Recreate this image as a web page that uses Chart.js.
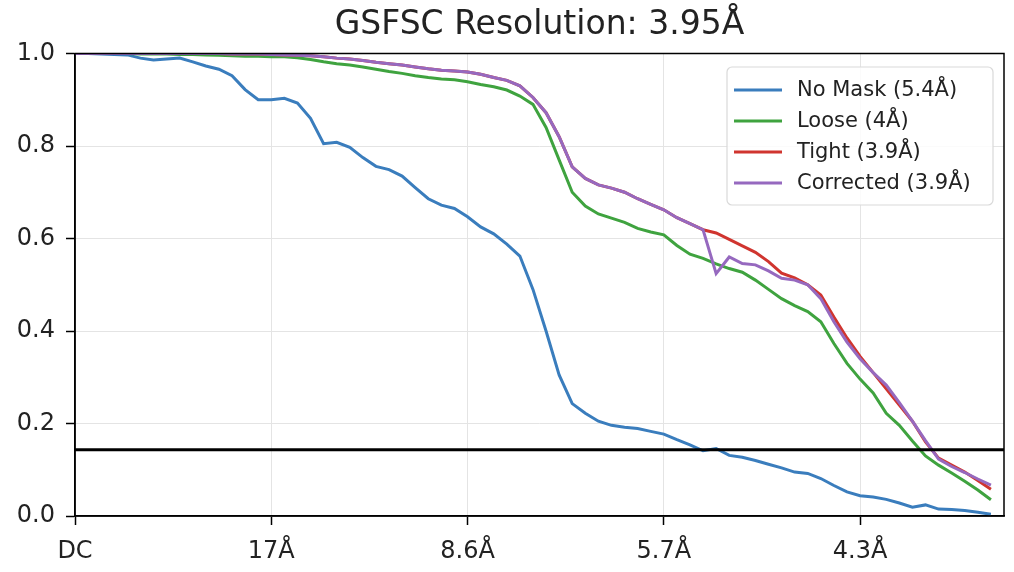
<!DOCTYPE html>
<html>
<head>
<meta charset="utf-8">
<script src="https://cdn.jsdelivr.net/npm/chart.js@4/dist/chart.umd.min.js"></script>
<style>
  body { margin: 0; background: #fff; }
  canvas { display: block; }
</style>
</head>
<body>
<canvas id="fsc" width="1014" height="572"></canvas>
<script>
// shell index along the x axis (tick every 15 shells)
const shells = Array.from({ length: 71 }, (_, i) => i);
const tickShells = [0, 15, 30, 45, 60];
const tickLabels = ["DC", "17Å", "8.6Å", "5.7Å", "4.3Å"];
const yTicks = [0, 0.2, 0.4, 0.6, 0.8, 1.0];

const titleText = "GSFSC Resolution: 3.95Å";
const threshold = 0.143;

const noMask = [1.0, 1.0, 0.999, 0.998, 0.997, 0.99, 0.986, 0.988, 0.99, 0.982,
  0.973, 0.966, 0.952, 0.922, 0.9, 0.9, 0.903, 0.893, 0.86, 0.805,
  0.808, 0.797, 0.775, 0.756, 0.749, 0.735, 0.71, 0.686, 0.672, 0.665,
  0.647, 0.625, 0.61, 0.588, 0.562, 0.49, 0.4, 0.305, 0.243, 0.222,
  0.205, 0.196, 0.192, 0.189, 0.183, 0.177, 0.165, 0.154, 0.141, 0.146,
  0.131, 0.127, 0.12, 0.112, 0.104, 0.095, 0.092, 0.081, 0.066, 0.052,
  0.044, 0.041, 0.036, 0.028, 0.019, 0.024, 0.015, 0.014, 0.012, 0.008, 0.004];

const loose = [1.0, 1.0, 1.0, 1.0, 1.0, 0.999, 0.999, 0.999, 0.998, 0.998,
  0.997, 0.996, 0.995, 0.994, 0.994, 0.993, 0.993, 0.991, 0.987, 0.982,
  0.978, 0.975, 0.971, 0.966, 0.961, 0.957, 0.952, 0.948, 0.945, 0.943,
  0.939, 0.933, 0.928, 0.921, 0.908, 0.89, 0.84, 0.77, 0.70, 0.67,
  0.653, 0.644, 0.635, 0.622, 0.614, 0.608, 0.585, 0.566, 0.557, 0.545,
  0.535, 0.527, 0.51, 0.49, 0.47, 0.455, 0.442, 0.42, 0.373, 0.33,
  0.296, 0.266, 0.222, 0.196, 0.162, 0.13, 0.11, 0.093, 0.075, 0.056, 0.035];

const tight = [1.0, 1.0, 1.0, 1.0, 1.0, 1.0, 1.0, 1.0, 1.0, 1.0,
  1.0, 1.0, 0.999, 0.999, 0.999, 0.998, 0.997, 0.996, 0.995, 0.993,
  0.99, 0.988, 0.985, 0.981, 0.978, 0.975, 0.971, 0.967, 0.964, 0.962,
  0.96, 0.955, 0.948, 0.942, 0.93, 0.905, 0.872, 0.82, 0.755, 0.73,
  0.716, 0.709, 0.70, 0.686, 0.674, 0.662, 0.645, 0.632, 0.619, 0.612,
  0.598, 0.584, 0.57, 0.55, 0.525, 0.515, 0.5, 0.478, 0.43, 0.385,
  0.345, 0.31, 0.275, 0.24, 0.205, 0.16, 0.125, 0.11, 0.095, 0.077, 0.058];

const corrected = [1.0, 1.0, 1.0, 1.0, 1.0, 1.0, 1.0, 1.0, 1.0, 1.0,
  1.0, 1.0, 0.999, 0.999, 0.999, 0.998, 0.997, 0.996, 0.995, 0.993,
  0.99, 0.988, 0.985, 0.981, 0.978, 0.975, 0.971, 0.967, 0.964, 0.962,
  0.96, 0.955, 0.948, 0.942, 0.93, 0.905, 0.872, 0.82, 0.755, 0.73,
  0.716, 0.709, 0.70, 0.686, 0.674, 0.662, 0.645, 0.632, 0.619, 0.524,
  0.56, 0.546, 0.543, 0.53, 0.514, 0.51, 0.5, 0.47, 0.42, 0.376,
  0.34, 0.31, 0.283, 0.245, 0.205, 0.163, 0.123, 0.107, 0.094, 0.08, 0.067];

const seriesLabels = ["No Mask (5.4Å)", "Loose (4Å)", "Tight (3.9Å)", "Corrected (3.9Å)"];
const seriesColors = ["#3a7dbd", "#3fa33f", "#d0352f", "#9669bf"];

const FONT = '"DejaVu Sans", "Liberation Sans", sans-serif';
Chart.defaults.font.family = FONT;
Chart.defaults.color = "#222";

function toPoints(vals) {
  return vals.map((v, i) => ({ x: shells[i], y: v }));
}

const seriesData = [noMask, loose, tight, corrected];
const datasets = seriesData.map((vals, k) => ({
  label: seriesLabels[k],
  data: toPoints(vals),
  borderColor: seriesColors[k],
  borderWidth: 3,
  pointRadius: 0,
  tension: 0,
  order: 4 - k
}));
datasets.push({
  label: "",
  data: [{ x: 0, y: threshold }, { x: 71, y: threshold }],
  borderColor: "#000",
  borderWidth: 3,
  pointRadius: 0,
  order: 0
});

// matplotlib style frame round the axes
const framePlugin = {
  id: "frame",
  afterDatasetsDraw(chart) {
    const { ctx, chartArea: a } = chart;
    ctx.save();
    ctx.strokeStyle = "#000";
    ctx.lineWidth = 1.5;
    ctx.strokeRect(a.left, a.top, a.right - a.left, a.bottom - a.top);
    ctx.restore();
  }
};

// legend box in the upper right corner
const legendBox = {
  id: "legendBox",
  afterDraw(chart) {
    const ctx = chart.ctx;
    const x0 = 727, y0 = 67, w = 266, h = 138, r = 5;
    ctx.save();
    ctx.fillStyle = "rgba(255,255,255,0.85)";
    ctx.strokeStyle = "#d9d9d9";
    ctx.lineWidth = 1.2;
    ctx.beginPath();
    ctx.roundRect(x0, y0, w, h, r);
    ctx.fill();
    ctx.stroke();
    ctx.font = "21px " + FONT;
    ctx.textBaseline = "middle";
    ctx.fillStyle = "#222";
    chart.data.datasets.filter(d => d.label).forEach((d, i) => {
      const y = 90 + i * 31;
      ctx.strokeStyle = d.borderColor;
      ctx.lineWidth = 3;
      ctx.beginPath();
      ctx.moveTo(734, y);
      ctx.lineTo(782, y);
      ctx.stroke();
      ctx.fillText(d.label, 797, y + 1);
    });
    ctx.restore();
  }
};

new Chart(document.getElementById("fsc"), {
  type: "line",
  data: { datasets },
  options: {
    responsive: false,
    animation: false,
    layout: { padding: { left: 0, right: 10, top: 0, bottom: 0 } },
    plugins: {
      legend: { display: false },
      tooltip: { enabled: false },
      title: {
        display: true,
        text: titleText,
        fullSize: false,
        color: "#222",
        font: { size: 33, weight: "normal" },
        padding: { top: 6, bottom: 7.9 }
      }
    },
    scales: {
      x: {
        type: "linear",
        min: 0,
        max: 71,
        afterBuildTicks: s => { s.ticks = tickShells.map(v => ({ value: v })); },
        afterFit: s => { s.height = 56; },
        ticks: {
          autoSkip: false,
          maxRotation: 0,
          padding: 12,
          color: "#222",
          font: { size: 24 },
          callback: v => tickLabels[tickShells.indexOf(v)]
        },
        grid: { color: "#e4e4e4", lineWidth: 1, tickColor: "#000", tickLength: 9, tickWidth: 1.5 },
        border: { color: "#000", width: 1.5 }
      },
      y: {
        min: 0,
        max: 1,
        afterBuildTicks: s => { s.ticks = yTicks.map(v => ({ value: v })); },
        afterFit: s => { s.width = 75; },
        ticks: {
          padding: 11,
          color: "#222",
          font: { size: 24 },
          callback: v => v.toFixed(1)
        },
        grid: { color: "#e4e4e4", lineWidth: 1, tickColor: "#000", tickLength: 9, tickWidth: 1.5 },
        border: { color: "#000", width: 1.5 }
      }
    }
  },
  plugins: [framePlugin, legendBox]
});
</script>
</body>
</html>
